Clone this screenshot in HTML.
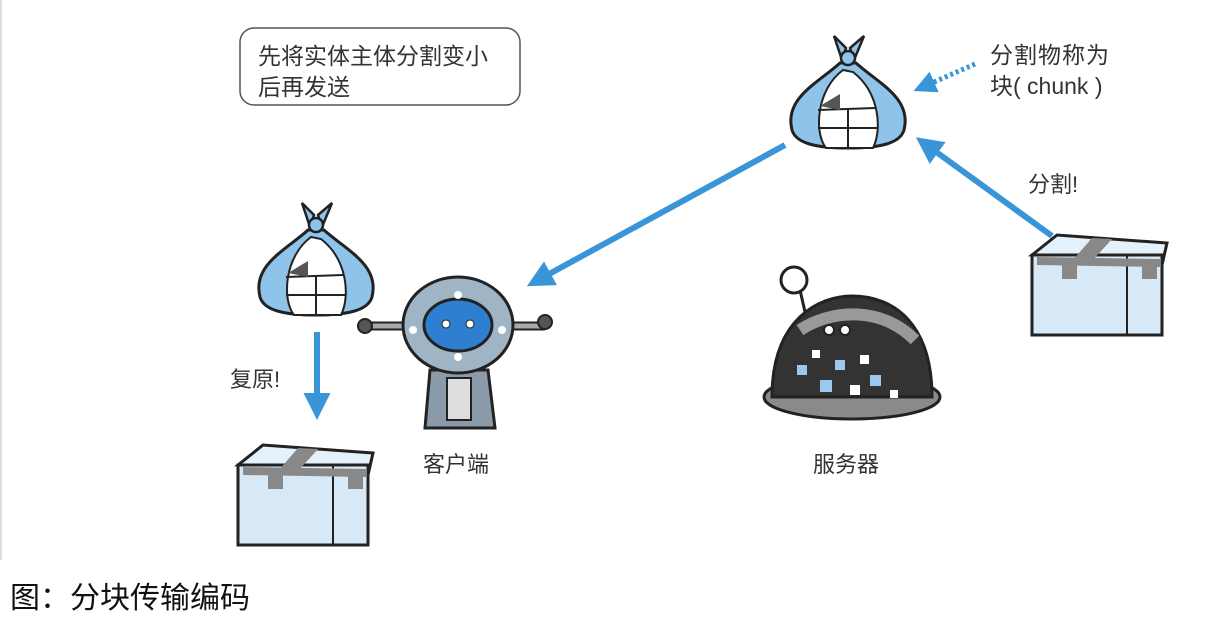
<!DOCTYPE html>
<html><head><meta charset="utf-8"><style>
body{margin:0;background:#fff;width:1215px;height:621px;overflow:hidden;font-family:"Liberation Sans","Noto Sans CJK SC",sans-serif}
</style></head><body>
<svg width="1215" height="621" xmlns="http://www.w3.org/2000/svg" style="position:absolute;left:0;top:0">
<defs>
<marker id="ah" markerWidth="4.5" markerHeight="4.5" refX="2" refY="2.25" orient="auto"><path d="M0,0 L4.5,2.25 L0,4.5 z" fill="#3a95d8"/></marker>
<g id="bundle">
 <path d="M-56,72 C-64,40 -30,25 -8,5 L8,5 C30,25 64,40 56,72 C52,86 30,90 0,90 C-30,90 -52,86 -56,72 Z" fill="#8ec3ea" stroke="#222" stroke-width="3"/>
 <path d="M-5,12 C-32,32 -34,75 -22,90 L25,90 C34,72 32,35 5,14 Z" fill="#fff" stroke="#222" stroke-width="2"/>
 <path d="M-30,52 L27,50 M-30,70 L30,70 M0,50 L0,90" stroke="#222" stroke-width="2"/>
 <path d="M-28,48 L-8,36 L-8,52 Z" fill="#555"/>
 <path d="M-6,2 L-14,-22 L-2,-10 Z M6,2 L16,-22 L2,-10 Z" fill="#8ec3ea" stroke="#222" stroke-width="2.5"/>
 <circle cx="0" cy="0" r="7" fill="#8ec3ea" stroke="#222" stroke-width="2.5"/>
</g>
<g id="box">
 <path d="M0,20 L25,0 L135,8 L130,30 Z" fill="#e4f0fa" stroke="#222" stroke-width="3"/>
 <rect x="0" y="20" width="130" height="80" fill="#d7e9f7" stroke="#222" stroke-width="3"/>
 <line x1="95" y1="20" x2="95" y2="100" stroke="#222" stroke-width="2"/>
 <path d="M60,3 L80,4 L60,26 L40,26 Z" fill="#888"/>
 <path d="M5,22 L128,24 L128,32 L5,30 Z" fill="#888"/>
 <rect x="30" y="28" width="15" height="16" fill="#888"/><rect x="110" y="28" width="15" height="16" fill="#888"/>
</g>
</defs>
<line x1="1" y1="0" x2="1" y2="560" stroke="#ddd" stroke-width="2"/>
<rect x="240" y="28" width="280" height="77" rx="14" fill="#fff" stroke="#555" stroke-width="1.5"/>
<text x="258" y="64" font-size="23" fill="#333">先将实体主体分割变小</text>
<text x="258" y="95" font-size="23" fill="#333">后再发送</text>
<use href="#bundle" x="848" y="58"/>
<use href="#bundle" x="316" y="225"/>
<line x1="785" y1="145" x2="540" y2="279" stroke="#3a95d8" stroke-width="6" marker-end="url(#ah)"/>
<line x1="1052" y1="236" x2="928" y2="146" stroke="#3a95d8" stroke-width="6" marker-end="url(#ah)"/>
<line x1="975" y1="64" x2="925" y2="86" stroke="#3a95d8" stroke-width="5" stroke-dasharray="3,3" marker-end="url(#ah)"/>
<line x1="317" y1="332" x2="317" y2="405" stroke="#3a95d8" stroke-width="6" marker-end="url(#ah)"/>
<use href="#box" x="238" y="445"/>
<use href="#box" x="1032" y="235"/>
<!-- robot -->
<line x1="365" y1="326" x2="545" y2="326" stroke="#222" stroke-width="9"/>
<line x1="365" y1="326" x2="545" y2="326" stroke="#aaa" stroke-width="5"/>
<circle cx="365" cy="326" r="7" fill="#555" stroke="#222" stroke-width="2"/>
<circle cx="545" cy="322" r="7" fill="#555" stroke="#222" stroke-width="2"/>
<path d="M430,370 L488,370 L495,428 L425,428 Z" fill="#8a9aa8" stroke="#222" stroke-width="3"/>
<rect x="447" y="378" width="24" height="42" fill="#ddd" stroke="#222" stroke-width="2"/>
<ellipse cx="458" cy="325" rx="55" ry="48" fill="#9fb4c4" stroke="#222" stroke-width="3"/>
<ellipse cx="458" cy="325" rx="34" ry="26" fill="#2f7fd0" stroke="#222" stroke-width="3"/>
<circle cx="446" cy="324" r="4" fill="#fff" stroke="#222"/><circle cx="470" cy="324" r="4" fill="#fff" stroke="#222"/>
<g fill="#fff"><circle cx="458" cy="295" r="4"/><circle cx="458" cy="357" r="4"/><circle cx="413" cy="330" r="4"/><circle cx="502" cy="330" r="4"/></g>
<!-- server -->
<line x1="800" y1="290" x2="808" y2="325" stroke="#222" stroke-width="3"/>
<circle cx="794" cy="280" r="13" fill="#fff" stroke="#222" stroke-width="3"/>
<ellipse cx="852" cy="397" rx="88" ry="22" fill="#8a8a8a" stroke="#222" stroke-width="3"/>
<path d="M772,397 C772,318 820,296 852,296 C895,296 932,325 932,397 Z" fill="#333" stroke="#222" stroke-width="3"/>
<path d="M800,330 C830,310 880,305 915,340" stroke="#999" stroke-width="12" fill="none"/>
<g fill="#9cc8ee"><rect x="797" y="365" width="10" height="10"/><rect x="820" y="380" width="12" height="12"/><rect x="870" y="375" width="11" height="11"/><rect x="835" y="360" width="10" height="10"/></g>
<g fill="#fff"><rect x="850" y="385" width="10" height="10"/><rect x="860" y="355" width="9" height="9"/><rect x="812" y="350" width="8" height="8"/><rect x="890" y="390" width="8" height="8"/></g>
<circle cx="829" cy="330" r="5" fill="#fff" stroke="#222" stroke-width="2"/><circle cx="845" cy="330" r="5" fill="#fff" stroke="#222" stroke-width="2"/>
<g font-size="22" fill="#333">
<text x="423" y="472">客户端</text>
<text x="813" y="472">服务器</text>
<text x="230" y="387">复原!</text>
<text x="1028" y="192">分割!</text>
<text x="990" y="63" font-size="23" letter-spacing="1">分割物称为</text>
<text x="990" y="94" font-size="23">块( chunk )</text>
</g>
<text x="10" y="608" font-size="30" fill="#111">图：分块传输编码</text>
</svg>
</body></html>
